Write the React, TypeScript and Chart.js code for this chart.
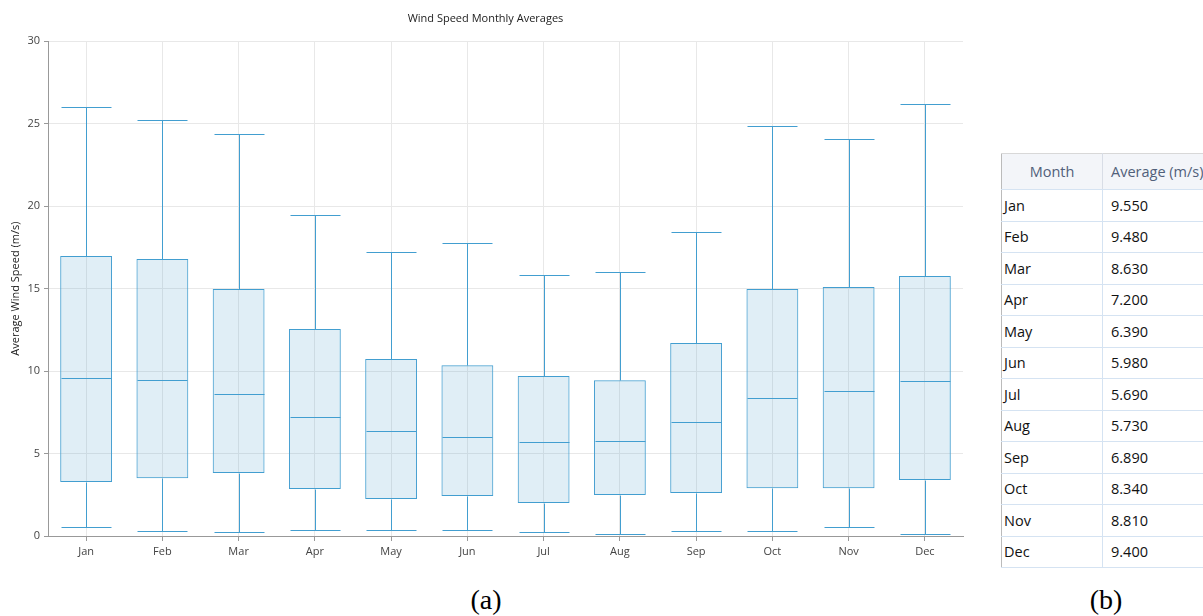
import React, { useEffect, useRef } from "react";
import { Chart, registerables } from "chart.js";

Chart.register(...registerables);

const months = ["Jan", "Feb", "Mar", "Apr", "May", "Jun", "Jul", "Aug", "Sep", "Oct", "Nov", "Dec"];
const mins = [0.55, 0.3, 0.25, 0.35, 0.35, 0.35, 0.25, 0.13, 0.3, 0.3, 0.55, 0.13];
const q1s = [3.27, 3.5, 3.82, 2.85, 2.24, 2.42, 2.0, 2.48, 2.6, 2.9, 2.9, 3.4];
const medians = [9.55, 9.48, 8.63, 7.2, 6.39, 5.98, 5.69, 5.73, 6.89, 8.34, 8.81, 9.4];
const q3s = [16.97, 16.8, 14.97, 12.55, 10.73, 10.36, 9.7, 9.45, 11.7, 14.97, 15.09, 15.76];
const maxs = [26.0, 25.2, 24.36, 19.45, 17.2, 17.76, 15.82, 16.0, 18.42, 24.85, 24.06, 26.18];
const averages = ["9.550", "9.480", "8.630", "7.200", "6.390", "5.980", "5.690", "5.730", "6.890", "8.340", "8.810", "9.400"];
const yTicks = [0, 5, 10, 15, 20, 25, 30];

const STROKE = "rgb(66,158,208)";
const FONT = "'Open Sans', 'Noto Sans', sans-serif";

const whiskerPlugin = {
  id: "whiskers",
  afterDatasetsDraw(chart: any) {
    const ctx = chart.ctx;
    const meta = chart.getDatasetMeta(0);
    const x = chart.scales.x;
    const y = chart.scales.y;
    ctx.save();
    ctx.strokeStyle = STROKE;
    ctx.lineWidth = 1;
    meta.data.forEach((bar: any, i: number) => {
      const cx = Math.round(x.getPixelForValue(i)) + 0.5;
      const half = bar.width / 2;
      const l = Math.round(cx - half) + 0.5;
      const r = Math.round(cx + half) - 0.5;
      const py = (v: number) => Math.round(y.getPixelForValue(v)) + 0.5;
      ctx.beginPath();
      ctx.moveTo(cx, py(q3s[i]));
      ctx.lineTo(cx, py(maxs[i]));
      ctx.moveTo(l, py(maxs[i]));
      ctx.lineTo(r, py(maxs[i]));
      ctx.moveTo(cx, py(q1s[i]));
      ctx.lineTo(cx, py(mins[i]));
      ctx.moveTo(l, py(mins[i]));
      ctx.lineTo(r, py(mins[i]));
      ctx.moveTo(l, py(medians[i]));
      ctx.lineTo(r, py(medians[i]));
      ctx.stroke();
    });
    ctx.restore();
  },
};

function BoxChart() {
  const ref = useRef<HTMLCanvasElement>(null);
  useEffect(() => {
    if (!ref.current) return;
    const chart = new Chart(ref.current, {
      type: "bar",
      data: {
        labels: months,
        datasets: [
          {
            data: months.map((_, i) => [q1s[i], q3s[i]]) as any,
            backgroundColor: "rgba(100,170,210,0.2)",
            borderColor: STROKE,
            borderWidth: 1,
            borderSkipped: false,
            barPercentage: 0.68,
            categoryPercentage: 1,
          },
        ],
      },
      options: {
        responsive: false,
        animation: false,
        layout: { padding: { top: 0, right: 12, left: 8, bottom: 0 } },
        plugins: {
          legend: { display: false },
          tooltip: { enabled: false },
          title: {
            display: true,
            text: "Wind Speed Monthly Averages",
            color: "#222",
            font: { family: FONT, size: 11, weight: "normal" },
            padding: { top: 12, bottom: 16 },
          },
        },
        scales: {
          x: {
            offset: true,
            grid: { offset: false, color: "#e8e8e8", tickLength: 5, tickColor: "#999" } as any,
            border: { color: "#999" },
            ticks: { color: "#444", font: { family: FONT, size: 11 }, padding: 4 },
            afterFit: (s: any) => { s.height = 44; },
          },
          y: {
            min: 0,
            max: 30,
            afterBuildTicks: (s: any) => { s.ticks = yTicks.map((v) => ({ value: v })); },
            grid: { color: "#e8e8e8", tickLength: 4, tickColor: "#999" },
            border: { color: "#999" },
            ticks: { color: "#444", font: { family: FONT, size: 11 }, padding: 4 },
            title: {
              display: true,
              text: "Average Wind Speed (m/s)",
              color: "#222",
              font: { family: FONT, size: 11 },
              padding: { top: 1.5, bottom: 0 },
            },
            afterFit: (s: any) => { s.width = 40; },
          },
        },
      },
      plugins: [whiskerPlugin],
    });
    return () => chart.destroy();
  }, []);
  return <canvas ref={ref} width={975} height={580} style={{ position: "absolute", left: 0, top: 0 }} />;
}

const cellBorder = "1px solid #d5e3f2";

export default function App() {
  return (
    <div style={{ position: "fixed", left: 0, top: 0, width: 1203, height: 616, overflow: "hidden", background: "#fff" }}>
      <BoxChart />
      <table
        style={{
          position: "absolute",
          left: 1001,
          top: 153,
          borderCollapse: "collapse",
          fontFamily: FONT,
          fontSize: 14.5,
          tableLayout: "fixed",
          width: 220,
          borderLeft: "1px solid #bbb",
          borderTop: "1px solid #d8d8d8",
        }}
      >
        <colgroup>
          <col style={{ width: 101 }} />
          <col style={{ width: 119 }} />
        </colgroup>
        <thead>
          <tr style={{ height: 36, background: "#f3f5f9" }}>
            <th style={{ fontWeight: "normal", color: "#51607a", textAlign: "center", borderRight: "1px solid #d8dde6", borderBottom: cellBorder, padding: 0 }}>Month</th>
            <th style={{ fontWeight: "normal", color: "#51607a", textAlign: "left", paddingLeft: 8, borderBottom: cellBorder, whiteSpace: "nowrap" }}>Average (m/s)</th>
          </tr>
        </thead>
        <tbody>
          {months.map((m, i) => (
            <tr key={m} style={{ height: 31.5 }}>
              <td style={{ color: "#111", borderRight: cellBorder, borderBottom: cellBorder, padding: "0 0 0 2px" }}>{m}</td>
              <td style={{ color: "#111", padding: "0 0 0 8px", borderBottom: cellBorder }}>{averages[i]}</td>
            </tr>
          ))}
        </tbody>
      </table>
      <div style={{ position: "absolute", left: 436, top: 584, width: 100, textAlign: "center", fontFamily: "'Liberation Serif', serif", fontSize: 28 }}>(a)</div>
      <div style={{ position: "absolute", left: 1056, top: 584, width: 100, textAlign: "center", fontFamily: "'Liberation Serif', serif", fontSize: 28 }}>(b)</div>
    </div>
  );
}
